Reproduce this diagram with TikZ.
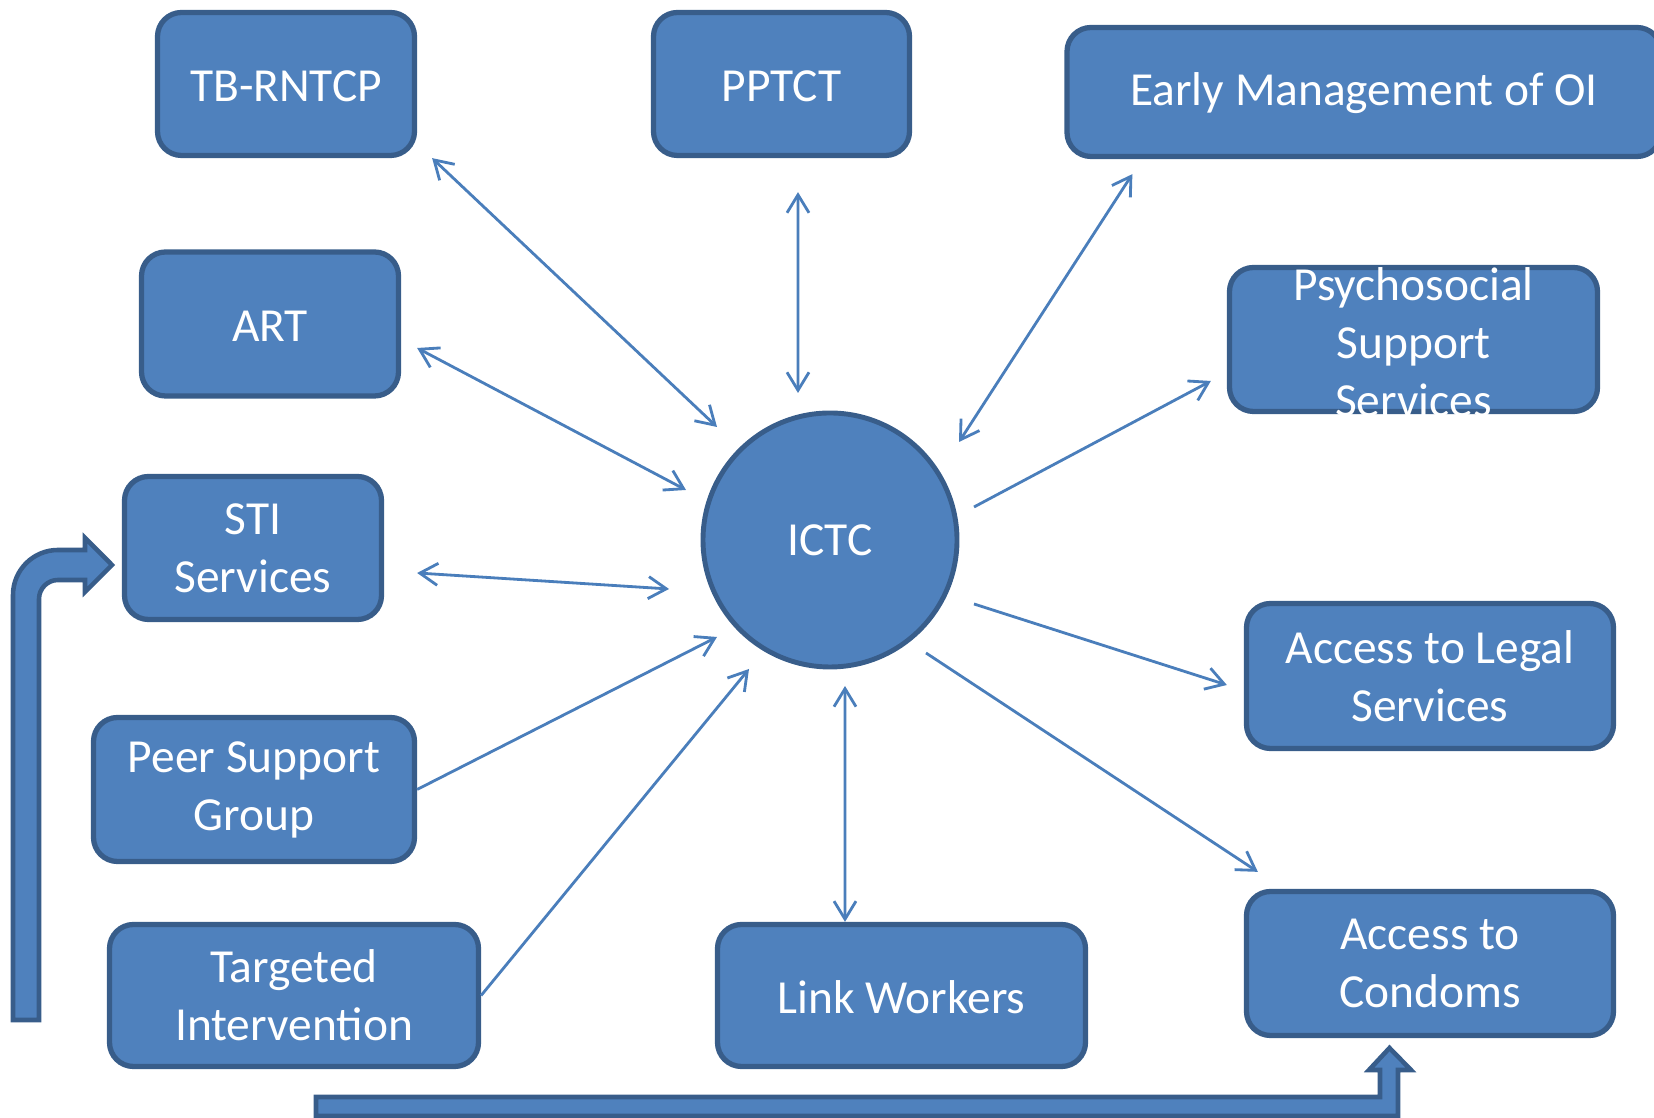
\documentclass[tikz,border=0pt]{standalone}
\usepackage{fontspec}
\setmainfont{Carlito}
\usetikzlibrary{arrows.meta}
\definecolor{boxfill}{RGB}{79,129,189}
\definecolor{boxline}{RGB}{56,93,138}
\definecolor{connblue}{RGB}{74,126,187}

\begin{document}
\begin{tikzpicture}[>={Straight Barb[length=1.8mm,width=2.2mm]},
  box/.style={draw=boxline,line width=1.5pt,fill=boxfill,rounded corners=2.4mm,
    text=white,align=center,inner sep=0pt,font=\fontsize{13.5}{16.5}\selectfont,
    execute at begin node={\rule{0pt}{3.6mm}}},
  hub/.style={circle,draw=boxline,line width=1.4pt,fill=boxfill,minimum size=2.54cm,
    text=white,inner sep=0pt,font=\fontsize{13.5}{16.5}\selectfont},
  conn/.style={draw=connblue,line width=0.8pt},
  bent/.style={draw=boxline,line width=1.3pt,fill=boxfill}]
\useasboundingbox (0,0) rectangle (16.54,11.18);

% services around the centre
\node[box,minimum width=2.57cm,minimum height=1.43cm] (tb) at (2.86,10.34) {TB-RNTCP};
\node[box,minimum width=2.56cm,minimum height=1.43cm] (pptct) at (7.815,10.34) {PPTCT};
\node[box,minimum width=5.94cm,minimum height=1.29cm] (early) at (13.64,10.26) {Early Management of OI};
\node[box,minimum width=2.57cm,minimum height=1.44cm] (art) at (2.70,7.94) {ART};
\node[box,minimum width=3.68cm,minimum height=1.44cm] (psych) at (14.135,7.785) {};
\node[text=white,align=center,font=\fontsize{13.5}{16.5}\selectfont] (psychtxt) at ([yshift=-0.3mm]psych) {Psychosocial\\Support\\Services};
\node[box,minimum width=2.57cm,minimum height=1.43cm] (sti) at (2.53,5.70) {STI\\Services};
\node[hub] (ictc) at (8.30,5.78) {ICTC};
\node[box,minimum width=3.67cm,minimum height=1.45cm] (legal) at (14.30,4.42) {Access to Legal\\Services};
\node[box,minimum width=3.21cm,minimum height=1.44cm] (peer) at (2.54,3.285) {Peer Support\\Group};
\node[box,minimum width=3.69cm,minimum height=1.42cm] (ti) at (2.94,1.225) {Targeted\\Intervention};
\node[box,minimum width=3.68cm,minimum height=1.42cm] (lw) at (9.015,1.225) {Link Workers};
\node[box,minimum width=3.67cm,minimum height=1.44cm] (condoms) at (14.30,1.545) {Access to\\Condoms};

% links to and from ICTC
\draw[conn,<->] ([xshift=1.5mm]tb.south east) -- ([shift={(-1.13,1.13)}]ictc.center);
\draw[conn,<->] ([shift={(0.165,-0.34)}]pptct.south) -- ([shift={(-0.32,1.47)}]ictc.center);
\draw[conn,<->] ([shift={(0.68,-0.15)}]early.south west) -- ([shift={(1.29,0.98)}]ictc.center);
\draw[conn,<->] ([shift={(0.16,-0.24)}]art.east) -- ([shift={(-1.44,0.50)}]ictc.center);
\draw[conn,->] ([shift={(1.44,0.33)}]ictc.center) -- ([shift={(-0.16,-0.415)}]psych.west);
\draw[conn,<->] ([shift={(0.33,-0.25)}]sti.east) -- ([shift={(-1.61,-0.49)}]ictc.center);
\draw[conn,->] (peer.east) -- ([shift={(-1.13,-0.97)}]ictc.center);
\draw[conn,->] (ti.east) -- ([shift={(-0.81,-1.29)}]ictc.center);
\draw[conn,<->] ([xshift=-5.65mm]lw.north) -- ([shift={(0.15,-1.46)}]ictc.center);
\draw[conn,->] ([shift={(1.44,-0.64)}]ictc.center) -- ([shift={(-0.17,-0.09)}]legal.west);
\draw[conn,->] ([shift={(0.96,-1.13)}]ictc.center) -- ([shift={(0.14,0.17)}]condoms.north west);

% bent block arrows
\draw[bent] (0.13,0.98) -- (0.13,5.23) arc[start angle=180,end angle=90,radius=0.45]
  -- (0.85,5.68) -- (0.85,5.80) -- (1.12,5.53) -- (0.85,5.26) -- (0.85,5.38)
  -- (0.58,5.38) arc[start angle=90,end angle=180,radius=0.19] -- (0.39,0.98) -- cycle;
\draw[bent] (3.16,0.02) -- (13.98,0.02) -- (13.98,0.48) -- (14.11,0.48) -- (13.895,0.70)
  -- (13.69,0.48) -- (13.80,0.48) -- (13.80,0.21) -- (3.16,0.21) -- cycle;
\end{tikzpicture}
\end{document}
